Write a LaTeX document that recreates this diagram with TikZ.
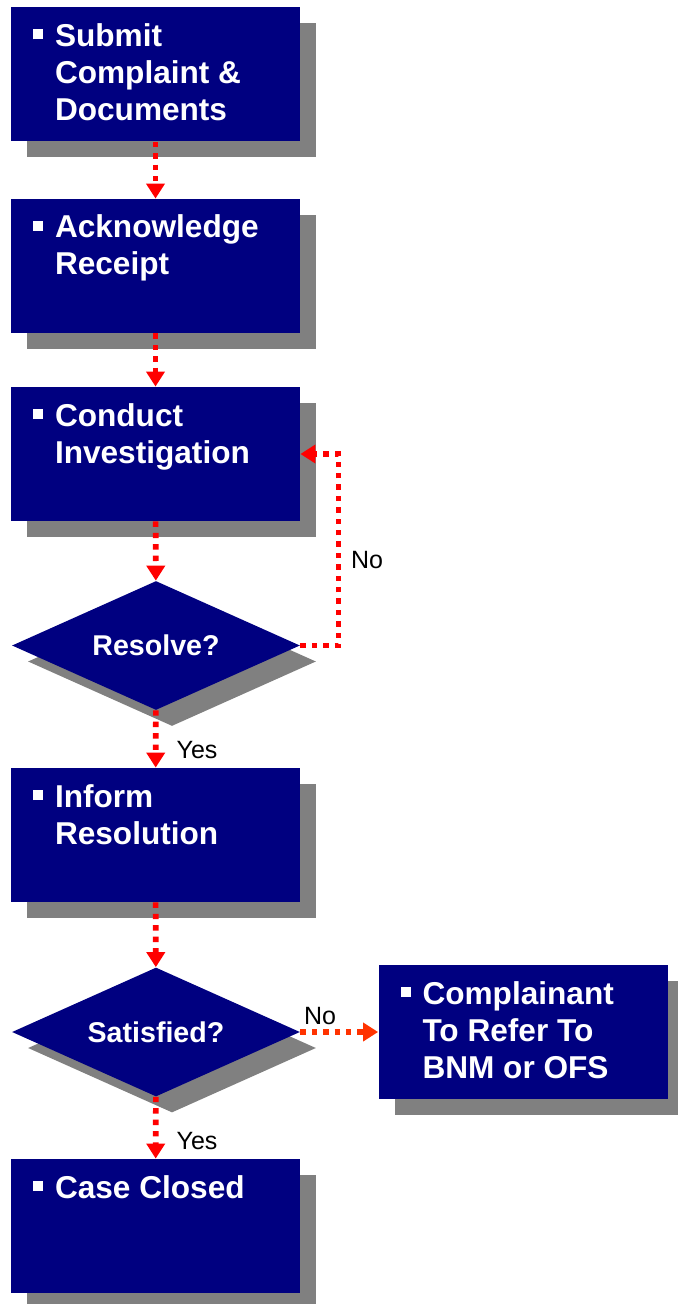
\documentclass[tikz,border=0pt]{standalone}
\usepackage{fontspec}
\setmainfont{Liberation Sans}
\usetikzlibrary{arrows.meta,shapes.geometric,shadows}
\definecolor{navy}      {RGB}{0,0,128}
\definecolor{shadowgray}{RGB}{128,128,128}
\definecolor{flowred}   {RGB}{255,0,0}
\definecolor{orangered} {RGB}{255,51,0}
\newcommand{\sqbul}{\rule[3.5pt]{5pt}{5pt}}
\newcommand{\steptext}[1]{\parbox[c][67pt][t]{144.5pt}{\raggedright\leftskip=22pt\parskip=0pt
  \rule{0pt}{19.5pt}\hspace*{-11pt}\makebox[11pt][l]{\sqbul}#1}}

\begin{document}
\begin{tikzpicture}[
  x=0.5pt,y=-0.5pt,
  stepbox/.style={rectangle,fill=navy,minimum width=144.5pt,minimum height=67pt,inner sep=0pt,
    text=white,font=\bfseries\fontsize{15.8}{18.5}\selectfont,
    drop shadow={shadow xshift=8pt,shadow yshift=-8pt,fill=shadowgray,opacity=1}},
  decision/.style={diamond,aspect=2.23,fill=navy,minimum width=144pt,minimum height=64.5pt,inner sep=0pt,
    text=white,font=\bfseries\fontsize{14.3}{17}\selectfont,
    drop shadow={shadow xshift=8pt,shadow yshift=-8pt,fill=shadowgray,opacity=1}},
  flow/.style={draw=flowred,line width=2.8pt,dash pattern=on 2.7pt off 3pt,-{Triangle[width=9pt,length=7.5pt]}},
  lbl/.style={font=\fontsize{12.5}{15}\selectfont,inner sep=0pt}]
  \useasboundingbox(0,0)rectangle(677,1304);
  \node[stepbox](submit) at(155.5,74.5){\steptext{Submit\\Complaint \&\\Documents}};
  \node[stepbox](ack) at(155.5,266){\steptext{Acknowledge\\Receipt}};
  \node[stepbox](conduct) at(155.5,454){\steptext{Conduct\\Investigation}};
  \node[decision](resolve) at(156,645.5){\raisebox{-1pt}{Resolve?}};
  \node[stepbox](inform) at(155.5,835){\steptext{Inform\\Resolution}};
  \node[decision](satisfied) at(156,1032){\raisebox{-1pt}{Satisfied?}};
  \node[stepbox](refer) at(523,1032){\steptext{Complainant\\To Refer To\\BNM or OFS}};
  \node[stepbox](closed) at(155.5,1226){\steptext{Case Closed}};
  \draw[flow](submit)--(ack);\draw[flow](ack)--(conduct);
  \draw[flow](conduct)--(resolve);\draw[flow](resolve)--(inform);
  \draw[flow](inform)--(satisfied);\draw[flow](satisfied)--(closed);
  \draw[flow,draw=orangered](satisfied)--(refer);
  \draw[flow](resolve.east)--++(38,0)|-(conduct.east);
  \node[lbl](no1) at(367,560){No};\node[lbl](yes1) at(197,750){Yes};
  \node[lbl](no2) at(320,1016){No};\node[lbl](yes2) at(197,1141){Yes};
\end{tikzpicture}
\end{document}
